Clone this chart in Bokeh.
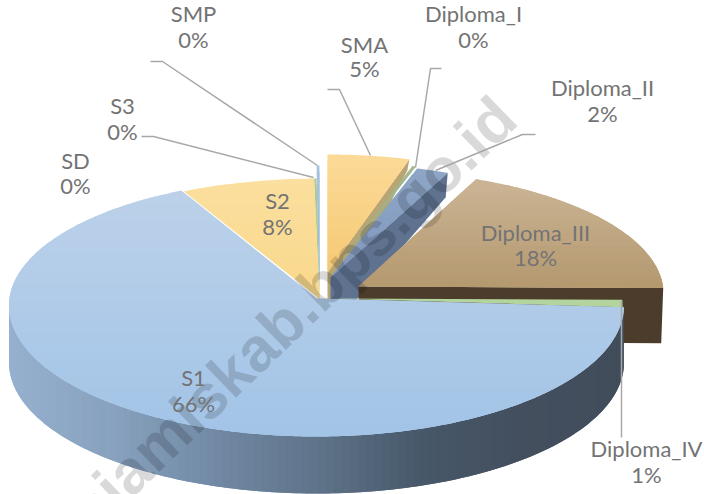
import numpy as np
from bokeh.plotting import figure
from bokeh.models import ColumnDataSource, Range1d
from bokeh.core.properties import value
from bokeh.embed import file_html
from bokeh.resources import INLINE

# ---- data ----
categories = ["SMA", "Diploma_I", "Diploma_II", "Diploma_III", "Diploma_IV", "S1", "S2", "S3", "SD", "SMP"]
shares = [4.4, 0.2, 1.7, 18.0, 0.9, 67.55, 6.97, 0.12, 0.01, 0.15]
percent_labels = ["5%", "0%", "2%", "18%", "1%", "66%", "8%", "0%", "0%", "0%"]
watermark = "ciamiskab.bps.go.id"

W, H = 704, 494
FONT = "Lato"
TXT = "#737374"
LEAD = "#a8a8a8"

# layout: where each slice sits in the perspective view
geom = {
    "SMA":         dict(ax=327, ay=272, a=300, b=125, top=("#fbdb98", "#f6c874"), wall="#b9a574"),
    "Diploma_I":   dict(ax=330, ay=274, a=300, b=120, top=("#a3ba90", "#8fa883"), wall=None),
    "Diploma_II":  dict(ax=330, ay=277, a=304, b=121, top=("#8ea6c6", "#7f97bc"), wall="#5f7391"),
    "Diploma_III": dict(ax=358, ay=286, a=305, b=124, top=("#cbb596", "#b4986e"), wall="#4b3c2c"),
    "Diploma_IV":  dict(ax=330, ay=298, a=292, b=128, top=("#b3d49c", "#b3d49c"), wall=None),
    "S1":          dict(ax=316, ay=298, a=307.5, b=128, top=("#bcd1e9", "#a2c4e7"), wall=None),
    "S2":          dict(ax=319, ay=298, a=307.5, b=127, top=("#fbdf9e", "#f8d88b"), wall=None),
    "S3":          dict(ax=319, ay=298, a=307.5, b=127, top=("#a9cd90", "#a9cd90"), wall=None),
    "SD":          dict(ax=319, ay=298, a=307.5, b=127, top=("#a9c4e2", "#a9c4e2"), wall=None),
    "SMP":         dict(ax=319, ay=290, a=307.5, b=132, top=("#a9c4e2", "#8fb0d4"), wall=None),
}
draw_order = ["SMP", "SD", "S3", "S2", "SMA", "Diploma_I", "Diploma_II", "Diploma_III", "Diploma_IV", "S1"]
CY_OFFSET = 7
S1_FRONT_B = 131
S1_DEPTH = 57

# angles clockwise from 12 o'clock, from the shares
edges = 90 - np.concatenate([[0], np.cumsum(shares)]) / sum(shares) * 360
angles = {c: (edges[i], edges[i + 1]) for i, c in enumerate(categories)}


def rim(name, t):
    g = geom[name]
    t = np.radians(t)
    b = np.where(np.sin(t) < 0, S1_FRONT_B, g["b"])
    return g["ax"] + g["a"] * np.cos(t), g["ay"] + CY_OFFSET - b * np.sin(t)


def face(name):
    t0, t1 = angles[name]
    n = max(4, int(abs(t0 - t1) * 2))
    x, y = rim(name, np.linspace(t0, t1, n))
    g = geom[name]
    return list(zip([g["ax"], *x], [g["ay"], *y]))


def clip(poly, yc, keep_below):
    out = []
    for i in range(len(poly)):
        p, q = poly[i], poly[(i + 1) % len(poly)]
        pin = (p[1] >= yc) == keep_below
        qin = (q[1] >= yc) == keep_below
        if pin:
            out.append(p)
        if pin != qin:
            f = (yc - p[1]) / (q[1] - p[1])
            out.append((p[0] + f * (q[0] - p[0]), yc))
    return out


def mix(c0, c1, f):
    a = [int(c0[i:i + 2], 16) for i in (1, 3, 5)]
    b = [int(c1[i:i + 2], 16) for i in (1, 3, 5)]
    return "#%02x%02x%02x" % tuple(int(round(u + (v - u) * f)) for u, v in zip(a, b))


xs, ys, cs = [], [], []


def add(poly, color):
    if len(poly) >= 3:
        xs.append([p[0] for p in poly])
        ys.append([p[1] for p in poly])
        cs.append(color)


def add_face(name):
    poly = face(name)
    c0, c1 = geom[name]["top"]
    ymin = min(p[1] for p in poly)
    ymax = max(p[1] for p in poly)
    n = max(1, int((ymax - ymin) / 6))
    lims = np.linspace(ymin, ymax, n + 1)
    for i in range(n):
        # each band runs on under the next one, so no seams show
        lower = lims[min(i + 2, n)]
        part = clip(clip(poly, lims[i], True), lower, False)
        add(part, mix(c0, c1, (i + 0.5) / n))


def depth_at(y):
    return float(np.interp(y, [159, 173, 287, 300], [11, 25, 55, 57]))


def add_cut_wall(name, t):
    g = geom[name]
    if g["wall"] is None:
        return
    x, y = rim(name, t)
    x, y = float(x), float(y)
    add([(g["ax"], g["ay"]), (x, y), (x - 2, y + depth_at(y)), (g["ax"], g["ay"] + depth_at(g["ay"]))], g["wall"])


# back slices
for c in draw_order[:-1]:
    add_cut_wall(c, angles[c][1])
    add_face(c)

# S1 rim wall, shaded from right to left, each strip running on under the next
wall_x = [7, 120, 220, 320, 420, 520, 622]
wall_c = ["#96b1cf", "#86a0bd", "#7088a3", "#5f7389", "#47586a", "#434f5e", "#414d5b"]
ts = np.linspace(-1, -180, 120)
for i in range(len(ts) - 1):
    tt = np.linspace(ts[i], ts[min(i + 2, len(ts) - 1)], 4)
    x, y = rim("S1", tt)
    xm = float(x[:2].mean())
    j = int(np.clip(np.searchsorted(wall_x, xm) - 1, 0, len(wall_x) - 2))
    f = (xm - wall_x[j]) / (wall_x[j + 1] - wall_x[j])
    top = list(zip(x, y))
    bottom = list(zip(x[::-1], y[::-1] + S1_DEPTH))
    add(top + bottom, mix(wall_c[j], wall_c[j + 1], f))
add_face("S1")

p = figure(width=W, height=H, x_range=Range1d(0, W), y_range=Range1d(H, 0),
           toolbar_location=None, output_backend="svg", min_border=0, margin=0)
p.axis.visible = False
p.grid.visible = False
p.outline_line_color = None

p.patches("xs", "ys", source=ColumnDataSource(dict(xs=xs, ys=ys, c=cs)),
          fill_color="c", line_color=None)

# watermark
p.text([292], [313], text=[watermark], angle=np.radians(44), text_align="center",
       text_baseline="middle", text_font=value("Liberation Sans"), text_font_style="bold",
       text_font_size="62px", text_color="#000000", text_alpha=0.15)

# leader lines
leaders = [
    [(150, 61), (162, 61), (317, 165)],
    [(141, 136), (153, 136), (313, 177)],
    [(327, 89), (339, 89), (370, 155)],
    [(441, 68), (430, 68), (415, 167)],
    [(535, 134), (522, 134), (435, 170)],
    [(621, 300), (621, 437)],
]
p.multi_line([[q[0] for q in l] for l in leaders], [[q[1] for q in l] for l in leaders],
             line_color=LEAD, line_width=1.5)

# labels
label_pos = {
    "SMP": (193, 13, 39), "Diploma_I": (473, 13, 39), "SMA": (364, 44, 68),
    "Diploma_II": (602, 87, 113), "S3": (122, 105, 131), "SD": (75, 160, 185),
    "S2": (277, 200, 226), "Diploma_III": (535, 232, 257), "S1": (193, 377, 403),
    "Diploma_IV": (646, 448, 474),
}
lx, ly, lt = [], [], []
for c, pct in zip(categories, percent_labels):
    x, y1, y2 = label_pos[c]
    lx += [x, x]
    ly += [y1, y2]
    lt += [c, pct]
p.text(lx, ly, text=lt, text_align="center", text_baseline="middle",
       text_font=value(FONT), text_font_size="22px", text_color=TXT)

open("out.html", "w").write(file_html(p, INLINE))
